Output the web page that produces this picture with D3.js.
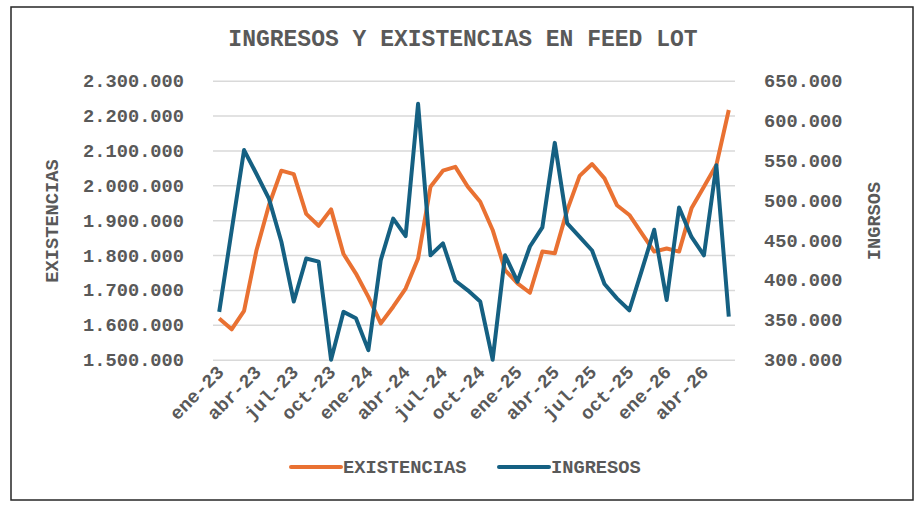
<!DOCTYPE html>
<html>
<head>
<meta charset="utf-8">
<script src="https://cdn.jsdelivr.net/npm/d3@7"></script>
<style>
  body { margin: 0; background: #fff; }
  text { font-family: "Liberation Mono", "Courier New", monospace; font-weight: bold; fill: #595959; }
</style>
</head>
<body>
<script>
'use strict';
// datos
const meses = ["ene-23","feb-23","mar-23","abr-23","may-23","jun-23","jul-23","ago-23","sep-23","oct-23","nov-23","dic-23",
               "ene-24","feb-24","mar-24","abr-24","may-24","jun-24","jul-24","ago-24","sep-24","oct-24","nov-24","dic-24",
               "ene-25","feb-25","mar-25","abr-25","may-25","jun-25","jul-25","ago-25","sep-25","oct-25","nov-25","dic-25",
               "ene-26","feb-26","mar-26","abr-26","may-26","jun-26"];
const existencias = [1618000,1587000,1640000,1814000,1943000,2042000,2032000,1918000,1884000,1931000,1803000,1747000,
                     1680000,1604000,1652000,1704000,1790000,1996000,2042000,2053000,1996000,1953000,1872000,1757000,
                     1719000,1692000,1810000,1805000,1929000,2027000,2061000,2020000,1943000,1915000,1862000,1810000,
                     1819000,1810000,1934000,1996000,2058000,2216000];
const ingresos = [360000,462000,563000,533000,502000,448000,373000,427000,423000,300000,360000,352000,
                  312000,425000,477000,455000,621000,431000,446000,399000,387000,373000,300000,431000,
                  398000,442000,466000,572000,471000,454000,437000,395000,377000,362000,412000,463000,
                  375000,491000,454000,431000,544000,354000];
const ticksExist = [1500000,1600000,1700000,1800000,1900000,2000000,2100000,2200000,2300000];
const ticksIngr = [300000,350000,400000,450000,500000,550000,600000,650000];

(function() {
    let W = 924, H = 510;
    let plot = { left: 213, right: 735, top: 80.7, bottom: 359.7 };
    let naranja = '#E97132', azul = '#156082';
    let loc = d3.formatLocale({ decimal: ',', thousands: '.', grouping: [3], currency: ['$', ''] });
    let fmt = loc.format(',d');

    let svg = d3.select('body').append('svg')
                .attr('width', W)
                .attr('height', H);

    svg.append('rect')
        .attr('x', 11).attr('y', 7)
        .attr('width', 902).attr('height', 493)
        .attr('fill', '#fff')
        .attr('stroke', '#262626')
        .attr('stroke-width', 1.5);

    let x = d3.scaleBand().domain(meses).range([plot.left, plot.right]);
    let cx = (d) => x(d) + x.bandwidth() / 2;
    let yL = d3.scaleLinear().domain([1500000, 2300000]).range([plot.bottom, plot.top]);
    let yR = d3.scaleLinear().domain([300000, 650000]).range([plot.bottom, plot.top]);

    // eje izquierdo + grilla
    let gL = svg.append('g')
        .attr('transform', 'translate(' + plot.left + ',0)')
        .call(d3.axisLeft(yL).tickValues(ticksExist).tickFormat(fmt)
              .tickSize(-(plot.right - plot.left)).tickPadding(29));
    gL.select('.domain').remove();
    gL.selectAll('line').attr('stroke', '#d9d9d9').attr('stroke-width', 1.5);
    gL.selectAll('text').style('font-size', '18.7px').style('font-family', null).attr('fill', null);

    // eje derecho
    let gR = svg.append('g')
        .attr('transform', 'translate(' + plot.right + ',0)')
        .call(d3.axisRight(yR).tickValues(ticksIngr).tickFormat(fmt).tickSize(0).tickPadding(29));
    gR.select('.domain').remove();
    gR.selectAll('text').style('font-size', '18.7px').style('font-family', null).attr('fill', null);

    // eje x
    let gX = svg.append('g')
        .attr('transform', 'translate(0,' + plot.bottom + ')')
        .call(d3.axisBottom(x).tickValues(meses.filter((d, i) => i % 3 === 0)).tickSize(0));
    gX.select('.domain').remove();
    gX.selectAll('text')
        .style('font-size', '18.7px').style('font-family', null).attr('fill', null)
        .attr('text-anchor', 'end')
        .attr('y', 0).attr('dy', '0.35em')
        .attr('transform', 'translate(1,9) rotate(-45)');

    // lineas
    svg.append('path')
        .datum(meses)
        .attr('fill', 'none')
        .attr('stroke', naranja)
        .attr('stroke-width', 4)
        .attr('stroke-linejoin', 'round')
        .attr('d', d3.line().x((d) => cx(d)).y((d, i) => yL(existencias[i])));
    svg.append('path')
        .datum(meses)
        .attr('fill', 'none')
        .attr('stroke', azul)
        .attr('stroke-width', 4)
        .attr('stroke-linejoin', 'round')
        .attr('d', d3.line().x((d) => cx(d)).y((d, i) => yR(ingresos[i])));

    // titulos
    svg.append('text')
        .attr('x', 463).attr('y', 46)
        .attr('text-anchor', 'middle')
        .style('font-size', '23px')
        .text('INGRESOS Y EXISTENCIAS EN FEED LOT');
    svg.append('text')
        .attr('transform', 'translate(58,221) rotate(-90)')
        .attr('text-anchor', 'middle')
        .style('font-size', '18.7px')
        .text('EXISTENCIAS');
    svg.append('text')
        .attr('transform', 'translate(880,221) rotate(-90)')
        .attr('text-anchor', 'middle')
        .style('font-size', '18.7px')
        .text('INGRSOS');

    // leyenda
    let leyenda = [{ n: 'EXISTENCIAS', c: naranja, x: 291 }, { n: 'INGRESOS', c: azul, x: 499 }];
    leyenda.forEach((l) => {
        svg.append('line')
            .attr('x1', l.x).attr('x2', l.x + 50)
            .attr('y1', 467).attr('y2', 467)
            .attr('stroke', l.c).attr('stroke-width', 4).attr('stroke-linecap', 'round');
        svg.append('text')
            .attr('x', l.x + 52).attr('y', 473)
            .style('font-size', '18.7px')
            .text(l.n);
    });
})();
</script>
</body>
</html>
